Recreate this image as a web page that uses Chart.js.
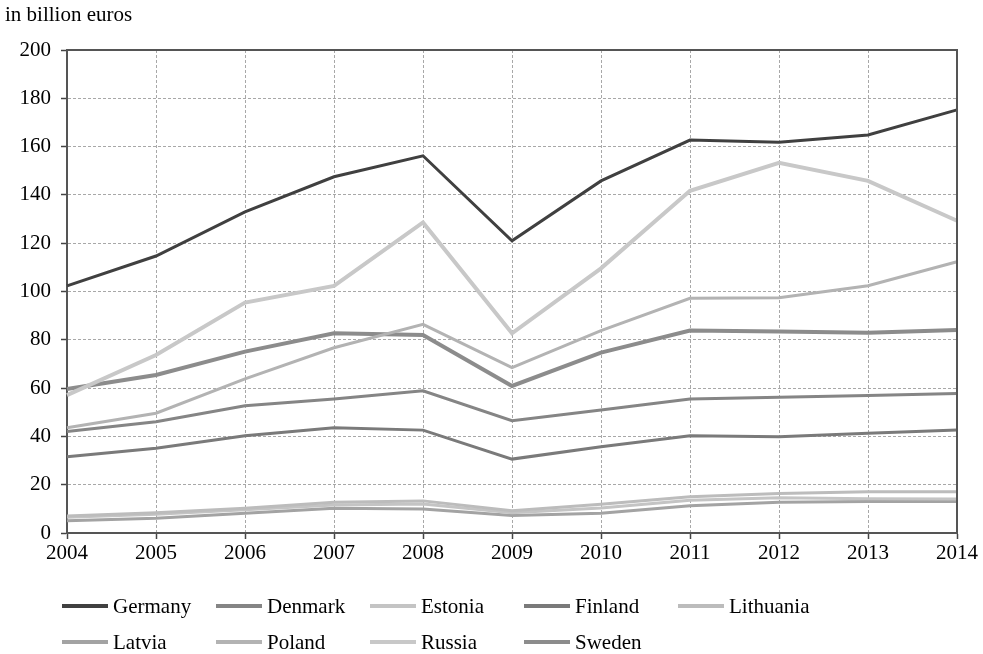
<!DOCTYPE html>
<html>
<head>
<meta charset="utf-8">
<script src="https://cdn.jsdelivr.net/npm/chart.js@4/dist/chart.umd.min.js"></script>
<style>
  html, body { margin: 0; padding: 0; background: #fff; }
  #wrap { position: relative; width: 983px; height: 654px; }
  #unit { position: absolute; left: 5px; top: 2px; font-family: "Liberation Serif", serif; font-size: 21px; color: #000; }
  #legend { position: absolute; left: 0; top: 0; width: 983px; height: 654px; pointer-events: none; }
  .li { position: absolute; height: 24px; display: flex; align-items: center; font-family: "Liberation Serif", serif; font-size: 21px; color: #000; }
  .sw { width: 46px; height: 4px; margin-right: 5px; }
</style>
</head>
<body>
<div id="wrap">
  <canvas id="c" width="983" height="654"></canvas>
  <div id="unit">in billion euros</div>
  <div id="legend"></div>
</div>
<script>
const years = ["2004","2005","2006","2007","2008","2009","2010","2011","2012","2013","2014"];
const yTicks = [0, 20, 40, 60, 80, 100, 120, 140, 160, 180, 200];

const germany   = [102.3, 114.7, 133.0, 147.5, 156.2, 121.0, 145.8, 162.7, 161.8, 164.8, 175.2];
const denmark   = [42.0, 46.1, 52.7, 55.5, 58.9, 46.5, 50.9, 55.5, 56.2, 56.9, 57.8];
const estonia   = [6.5, 7.8, 9.6, 11.6, 12.0, 8.4, 10.4, 13.6, 14.6, 14.2, 14.1];
const finland   = [31.6, 35.1, 40.3, 43.6, 42.6, 30.6, 35.7, 40.3, 39.9, 41.3, 42.6];
const lithuania = [7.0, 8.4, 10.2, 12.7, 13.3, 9.2, 11.9, 15.0, 16.4, 17.1, 17.1];
const latvia    = [5.1, 6.1, 8.2, 10.2, 9.9, 7.2, 8.2, 11.3, 12.7, 13.0, 13.0];
const poland    = [43.6, 49.6, 63.8, 76.7, 86.4, 68.5, 83.8, 97.2, 97.4, 102.4, 112.3];
const russia    = [57.1, 73.7, 95.4, 102.3, 128.6, 82.7, 109.6, 141.7, 153.3, 145.8, 129.3];
const sweden    = [59.6, 65.4, 75.1, 82.7, 82.0, 60.9, 74.7, 83.8, 83.4, 82.9, 84.1];

const seriesNames = ["Germany","Denmark","Estonia","Finland","Lithuania","Latvia","Poland","Russia","Sweden"];
const seriesData  = [germany, denmark, estonia, finland, lithuania, latvia, poland, russia, sweden];
const seriesColors = ["#404040","#858585","#c4c4c4","#7a7a7a","#bcbcbc","#a3a3a3","#b3b3b3","#c8c8c8","#8c8c8c"];
const seriesWidths = [3, 3, 3, 3, 3, 3, 3, 4, 4];

const datasets = seriesNames.map((n, i) => ({
  label: n,
  data: seriesData[i],
  borderColor: seriesColors[i],
  backgroundColor: seriesColors[i],
  borderWidth: seriesWidths[i],
  pointRadius: 0,
  tension: 0,
  fill: false
}));
const order = [7, 6, 8, 1, 3, 4, 2, 5, 0];
const drawSets = order.map(i => datasets[i]);

const frame = {
  id: 'frame',
  afterDraw(chart) {
    const {ctx, chartArea: a} = chart;
    ctx.save();
    ctx.strokeStyle = '#555';
    ctx.lineWidth = 2;
    ctx.beginPath();
    ctx.moveTo(a.left, a.top);
    ctx.lineTo(a.right, a.top);
    ctx.lineTo(a.right, a.bottom);
    ctx.stroke();
    ctx.restore();
  }
};

const font = { family: "'Liberation Serif', serif", size: 21 };

const chart = new Chart(document.getElementById('c'), {
  type: 'line',
  data: { labels: years, datasets: drawSets },
  options: {
    responsive: false,
    animation: false,
    layout: { padding: { top: 50, right: 26, bottom: 0, left: 0 } },
    plugins: { legend: { display: false }, tooltip: { enabled: false } },
    scales: {
      x: {
        type: 'category',
        offset: false,
        grid: { color: '#a8a8a8', lineWidth: 1, tickLength: 6, tickColor: '#444', tickWidth: 1.5 },
        border: { display: true, color: '#555', width: 2, dash: [3, 2] },
        ticks: { color: '#000', font: font, padding: 2, maxRotation: 0, autoSkip: false },
        afterFit(s) { s.height = 121; }
      },
      y: {
        min: 0, max: 200,
        afterBuildTicks(s) { s.ticks = yTicks.map(v => ({ value: v })); },
        grid: { color: '#a8a8a8', lineWidth: 1, tickLength: 6, tickColor: '#444', tickWidth: 1.5 },
        border: { display: true, color: '#555', width: 2, dash: [3, 2] },
        ticks: { color: '#000', font: font, padding: 10 },
        afterFit(s) { s.width = 67; }
      }
    }
  },
  plugins: [frame]
});

const leg = document.getElementById('legend');
datasets.forEach((d, i) => {
  const col = i % 5, row = Math.floor(i / 5);
  const el = document.createElement('div');
  el.className = 'li';
  el.style.left = (62 + col * 154) + 'px';
  el.style.top = (594 + row * 36) + 'px';
  const sw = document.createElement('div');
  sw.className = 'sw';
  sw.style.background = d.borderColor;
  const tx = document.createElement('span');
  tx.textContent = d.label;
  el.appendChild(sw); el.appendChild(tx);
  leg.appendChild(el);
});
</script>
</body>
</html>
